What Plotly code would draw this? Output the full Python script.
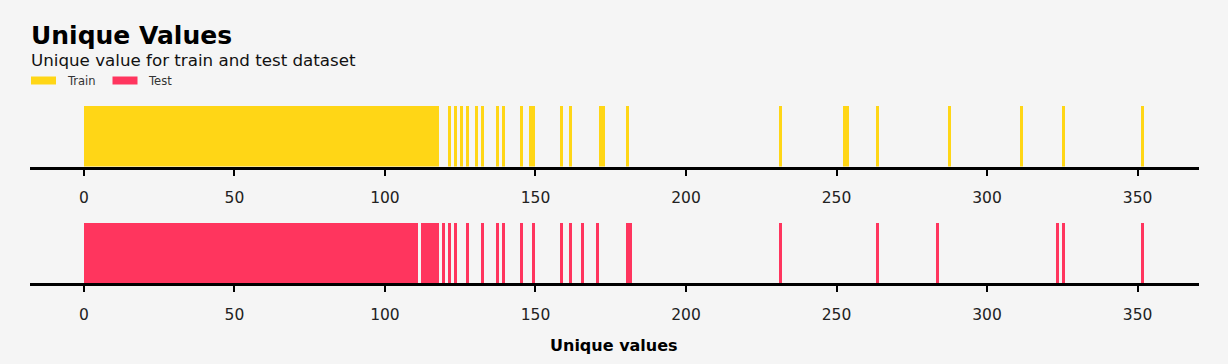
import plotly.graph_objects as go
from plotly.subplots import make_subplots

# Unique values present in each dataset (each drawn as a unit-height bar)
train_values = [
    0, 1, 2, 3, 4, 5, 6, 7, 8, 9, 10, 11, 12, 13, 14, 15, 16, 17, 18, 19,
    20, 21, 22, 23, 24, 25, 26, 27, 28, 29, 30, 31, 32, 33, 34, 35, 36, 37, 38, 39,
    40, 41, 42, 43, 44, 45, 46, 47, 48, 49, 50, 51, 52, 53, 54, 55, 56, 57, 58, 59,
    60, 61, 62, 63, 64, 65, 66, 67, 68, 69, 70, 71, 72, 73, 74, 75, 76, 77, 78, 79,
    80, 81, 82, 83, 84, 85, 86, 87, 88, 89, 90, 91, 92, 93, 94, 95, 96, 97, 98, 99,
    100, 101, 102, 103, 104, 105, 106, 107, 108, 109, 110, 111, 112, 113, 114, 115, 116, 117,
    121, 123, 125, 127, 130, 132, 137, 139, 145, 148, 149, 158, 161, 171, 172, 180,
    231, 252, 253, 263, 287, 311, 325, 351,
]
test_values = [
    0, 1, 2, 3, 4, 5, 6, 7, 8, 9, 10, 11, 12, 13, 14, 15, 16, 17, 18, 19,
    20, 21, 22, 23, 24, 25, 26, 27, 28, 29, 30, 31, 32, 33, 34, 35, 36, 37, 38, 39,
    40, 41, 42, 43, 44, 45, 46, 47, 48, 49, 50, 51, 52, 53, 54, 55, 56, 57, 58, 59,
    60, 61, 62, 63, 64, 65, 66, 67, 68, 69, 70, 71, 72, 73, 74, 75, 76, 77, 78, 79,
    80, 81, 82, 83, 84, 85, 86, 87, 88, 89, 90, 91, 92, 93, 94, 95, 96, 97, 98, 99,
    100, 101, 102, 103, 104, 105, 106, 107, 108, 109, 110, 112, 113, 114, 115, 116, 117,
    119, 121, 123, 127, 132, 137, 139, 145, 149, 158, 161, 165, 170, 180, 181,
    231, 263, 283, 323, 325, 351,
]
train_heights = [1] * len(train_values)
test_heights = [1] * len(test_values)

tick_values = [0, 50, 100, 150, 200, 250, 300, 350]
tick_labels = ["0", "50", "100", "150", "200", "250", "300", "350"]

series_names = ["Train", "Test"]
title_text = "Unique Values"
subtitle_text = "Unique value for train and test dataset"
xlabel_text = "Unique values"

TRAIN_COLOR = "#ffd616"
TEST_COLOR = "#ff355e"
BG = "#f5f5f5"
FONT = "DejaVu Sans"

W, H = 1228, 364

fig = make_subplots(rows=2, cols=1)

fig.add_trace(go.Bar(x=train_values, y=train_heights, width=1, offset=0,
                     marker=dict(color=TRAIN_COLOR, line=dict(width=0)),
                     name=series_names[0], showlegend=False, hoverinfo="skip"), row=1, col=1)
fig.add_trace(go.Bar(x=test_values, y=test_heights, width=1, offset=0,
                     marker=dict(color=TEST_COLOR, line=dict(width=0)),
                     name=series_names[1], showlegend=False, hoverinfo="skip"), row=2, col=1)

xdom = [30 / W, 1199 / W]
axis_common = dict(
    range=[-17.9, 370.4], domain=xdom, showgrid=False, zeroline=False,
    showline=True, linecolor="black", linewidth=3,
    ticks="outside", ticklen=6, tickwidth=2, tickcolor="black",
    ticklabelstandoff=9,
    tickvals=tick_values, ticktext=tick_labels,
    tickfont=dict(family=FONT, size=15.5, color="#222222"),
)
fig.update_xaxes(**axis_common, row=1, col=1)
fig.update_xaxes(**axis_common, row=2, col=1)
yaxis_common = dict(range=[0, 1.05], showgrid=False, zeroline=False,
                    showline=False, showticklabels=False, ticks="")
fig.update_yaxes(**yaxis_common, domain=[1 - 166.5 / H, 1 - 103 / H], row=1, col=1)
fig.update_yaxes(**yaxis_common, domain=[1 - 283 / H, 1 - 219.5 / H], row=2, col=1)

def py(px):
    return 1 - px / H

def pxx(px):
    return px / W

annotations = [
    dict(text=f"<b>{title_text}</b>", x=pxx(28.5), y=py(35), xanchor="left", yanchor="middle",
         font=dict(family=FONT, size=25, color="black")),
    dict(text=subtitle_text, x=pxx(29), y=py(60),
         xanchor="left", yanchor="middle", font=dict(family=FONT, size=16.7, color="#111111")),
    dict(text=f"<b>{xlabel_text}</b>", x=pxx(614), y=py(345), xanchor="center", yanchor="middle",
         font=dict(family=FONT, size=16, color="black")),
    dict(text=series_names[0], x=pxx(64.5), y=py(80.5), xanchor="left", yanchor="middle",
         font=dict(family=FONT, size=11.5, color="#333333")),
    dict(text=series_names[1], x=pxx(146), y=py(80.5), xanchor="left", yanchor="middle",
         font=dict(family=FONT, size=11.5, color="#333333")),
]
for a in annotations:
    a.update(xref="paper", yref="paper", showarrow=False)

shapes = [
    dict(type="rect", xref="paper", yref="paper", x0=pxx(31), x1=pxx(56), y0=py(84.5), y1=py(76.5),
         fillcolor=TRAIN_COLOR, line=dict(width=0)),
    dict(type="rect", xref="paper", yref="paper", x0=pxx(112.5), x1=pxx(137.5), y0=py(84.5), y1=py(76.5),
         fillcolor=TEST_COLOR, line=dict(width=0)),
]

fig.update_layout(
    width=W, height=H, margin=dict(l=0, r=0, t=0, b=0),
    paper_bgcolor=BG, plot_bgcolor=BG, bargap=0, barmode="overlay",
    annotations=annotations, shapes=shapes, showlegend=False,
    font=dict(family=FONT), hovermode=False,
)

fig.write_html(
    "out.html",
    config={"displayModeBar": False},
    post_script="document.body.style.margin='0';document.body.style.padding='0';"
                "document.body.style.background='#f5f5f5';document.body.style.overflow='hidden';",
)
